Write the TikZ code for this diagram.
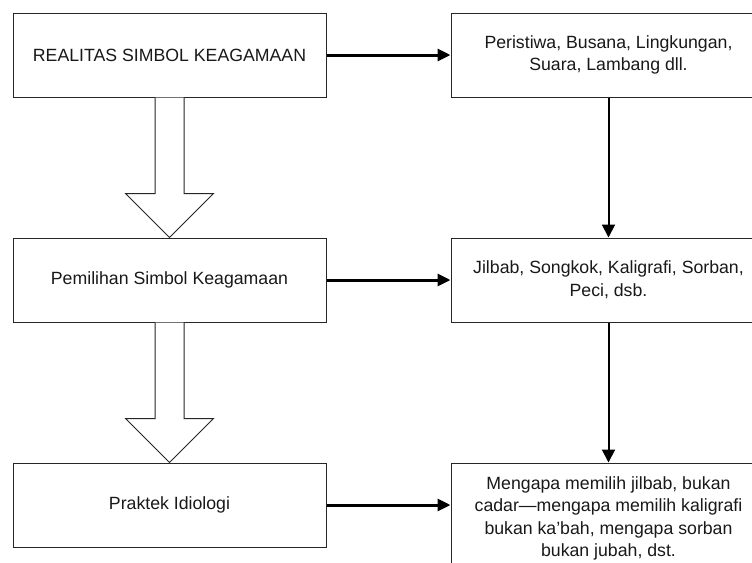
\documentclass[tikz,border=0pt]{standalone}
\usepackage{fontspec}
\setmainfont{Liberation Sans}
\usetikzlibrary{arrows.meta,calc,positioning}

\begin{document}
\begin{tikzpicture}[x=0.5pt, y=-0.5pt,
    node_style/.style={rectangle,draw=black!85,line width=0.5pt,fill=white,text=black!90,minimum width=156.5pt,minimum height=42pt,inner sep=0pt,align=center,font=\fontsize{8.85}{11.3}\selectfont},
    edge_style1/.style={draw=black, line width=1.5pt, -{Triangle[length=6.5pt,width=6pt]}},
    edge_style2/.style={draw=black, line width=1pt, -{Triangle[length=6.5pt,width=6.5pt]}},
    block_style/.style={draw=black!85, line width=0.5pt, fill=white, line join=miter}]

	\clip (0,0) rectangle (752,563);

	\node[node_style] (l1) at (169.5, 55) {REALITAS SIMBOL KEAGAMAAN};
	\node[node_style] (l2) at (169.5, 280) {Pemilihan Simbol Keagamaan};
	\node[node_style] (l3) at (169.5, 505) {Praktek Idiologi};

	\node[node_style, minimum width=157.5pt] (r1) at (608.5, 55) {Peristiwa, Busana, Lingkungan,\\Suara, Lambang dll.};
	\node[node_style, minimum width=157.5pt] (r2) at (608.5, 280) {Jilbab, Songkok, Kaligrafi, Sorban,\\Peci, dsb.};
	\node[node_style, minimum width=157.5pt, minimum height=55.5pt] (r3) at (608.5, 518.5) {Mengapa memilih jilbab, bukan\\cadar---mengapa memilih kaligrafi\\bukan ka'bah, mengapa sorban\\bukan jubah, dst.};

	% hollow arrows on the left
	\draw[block_style] ($(l1.south)+(-14.5,0)$) -- ($(l2.north)+(-14.5,-44)$) -- ($(l2.north)+(-44,-44)$) -- (l2.north) -- ($(l2.north)+(44,-44)$) -- ($(l2.north)+(14.5,-44)$) -- ($(l1.south)+(14.5,0)$);
	\draw[block_style] ($(l2.south)+(-14.5,0)$) -- ($(l3.north)+(-14.5,-44)$) -- ($(l3.north)+(-44,-44)$) -- (l3.north) -- ($(l3.north)+(44,-44)$) -- ($(l3.north)+(14.5,-44)$) -- ($(l2.south)+(14.5,0)$);

	\draw[edge_style1] (l1) edge node{} (r1);
	\draw[edge_style1] (l2) edge node{} (r2);
	\draw[edge_style1] (l3) edge node{} (r3.west |- l3);

	\draw[edge_style2] (r1) edge node{} (r2);
	\draw[edge_style2] (r2) edge node{} (r3);
\end{tikzpicture}
\end{document}
